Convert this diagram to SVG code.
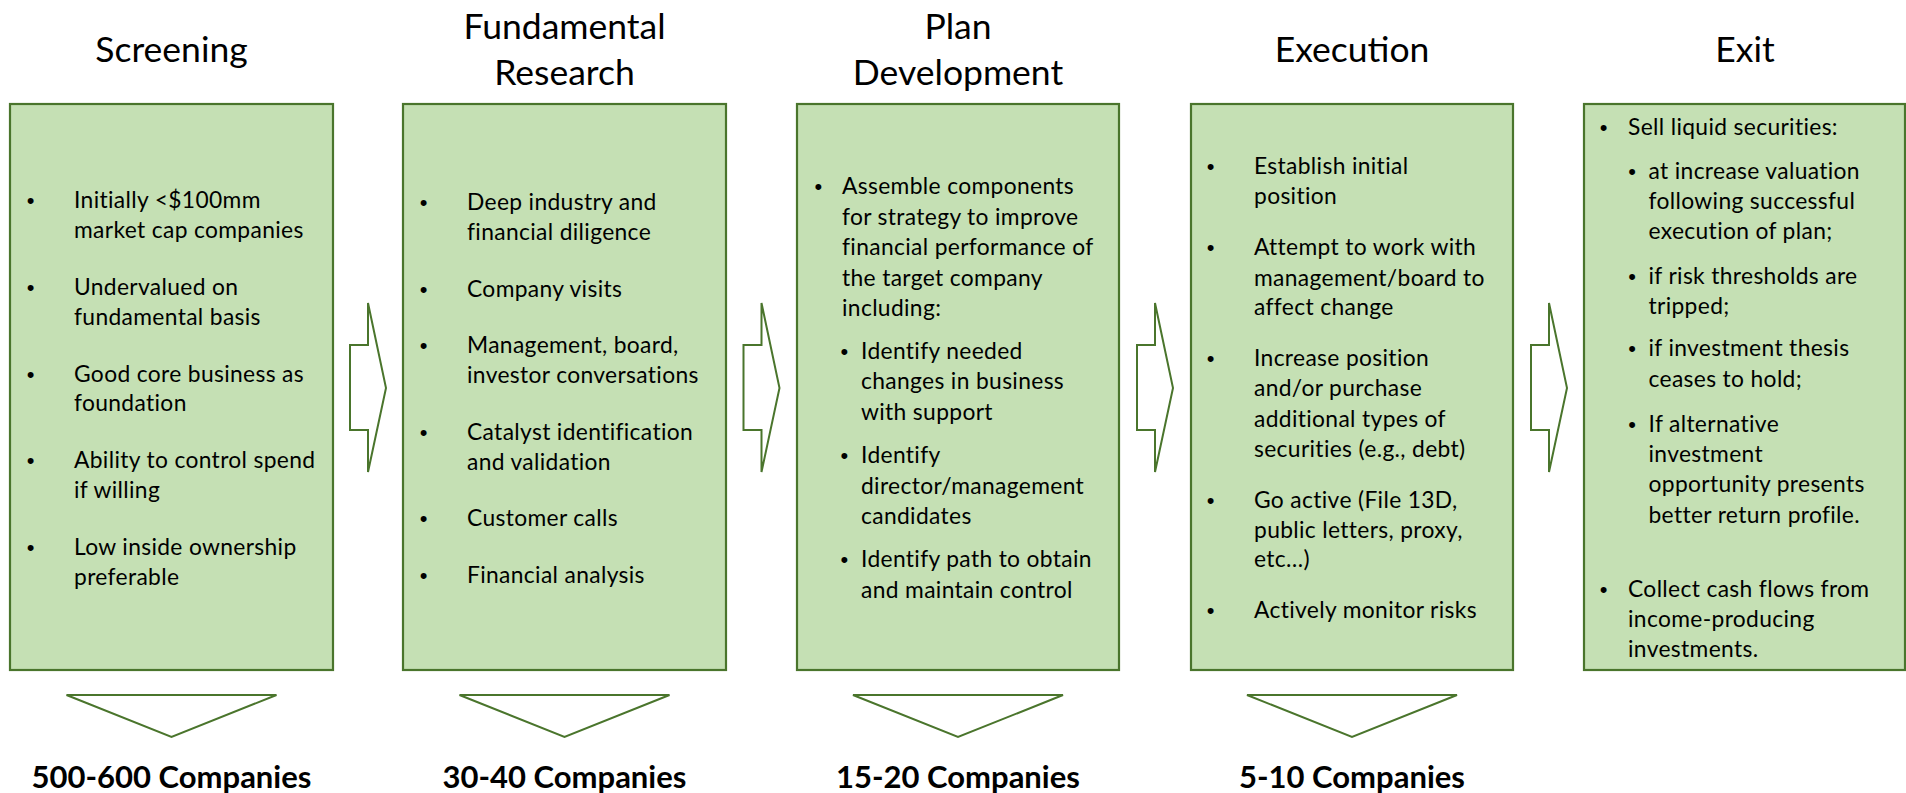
<svg xmlns="http://www.w3.org/2000/svg" width="1906" height="793" viewBox="0 0 1906 793">
  <defs>
    <style>
      .box { fill: #C5E0B4; stroke: #4A752C; stroke-width: 2.2; }
      .arrow { fill: #FFFFFF; stroke: #4A752C; stroke-width: 2; stroke-linejoin: miter; }
      .title { font-family: Lato, "Open Sans", sans-serif; font-size: 35.5px; fill: #000; text-anchor: middle; }
      .body { font-family: Lato, "Open Sans", sans-serif; font-size: 22.8px; letter-spacing: 0.35px; fill: #000; }
      .dot { font-family: "Liberation Sans", Arial, sans-serif; font-size: 22px; fill: #000; text-anchor: middle; }
      .count { font-family: Lato, "Open Sans", sans-serif; font-size: 31px; font-weight: bold; fill: #000; text-anchor: middle; }
    </style>
    <polygon id="rightArrow" class="arrow" points="350,345 368,345 368,303 386,388 368,472 368,430 350,430"/>
    <polygon id="downArrow" class="arrow" points="-105,695 105,695 0,737"/>
  </defs>

  <!-- Stage 1: Screening -->
  <g id="screening">
    <text class="title" x="171.5" y="61.7">Screening</text>
    <rect class="box" x="10" y="104" width="323" height="566"/>
    <g class="dot">
      <text x="30.7" y="208">•</text>
      <text x="30.7" y="295">•</text>
      <text x="30.7" y="381.5">•</text>
      <text x="30.7" y="468">•</text>
      <text x="30.7" y="555">•</text>
    </g>
    <text class="body">
      <tspan x="74" y="208">Initially &lt;$100mm</tspan>
      <tspan x="74" y="237.5">market cap companies</tspan>
      <tspan x="74" y="295">Undervalued on</tspan>
      <tspan x="74" y="324.5">fundamental basis</tspan>
      <tspan x="74" y="381.5">Good core business as</tspan>
      <tspan x="74" y="411">foundation</tspan>
      <tspan x="74" y="468">Ability to control spend</tspan>
      <tspan x="74" y="497.5">if willing</tspan>
      <tspan x="74" y="555">Low inside ownership</tspan>
      <tspan x="74" y="584.5">preferable</tspan>
    </text>
    <use href="#downArrow" x="171.5"/>
    <text class="count" x="171.5" y="788">500-600 Companies</text>
  </g>

  <!-- Stage 2: Fundamental Research -->
  <g id="fundamental-research">
    <text class="title" x="564.5" y="39">Fundamental</text>
    <text class="title" x="564.5" y="84.5">Research</text>
    <rect class="box" x="403" y="104" width="323" height="566"/>
    <g class="dot">
      <text x="423.5" y="210">•</text>
      <text x="423.5" y="296.5">•</text>
      <text x="423.5" y="353">•</text>
      <text x="423.5" y="440">•</text>
      <text x="423.5" y="526">•</text>
      <text x="423.5" y="582.5">•</text>
    </g>
    <text class="body">
      <tspan x="467" y="210">Deep industry and</tspan>
      <tspan x="467" y="239.5">financial diligence</tspan>
      <tspan x="467" y="296.5">Company visits</tspan>
      <tspan x="467" y="353">Management, board,</tspan>
      <tspan x="467" y="382.5">investor conversations</tspan>
      <tspan x="467" y="440">Catalyst identification</tspan>
      <tspan x="467" y="469.5">and validation</tspan>
      <tspan x="467" y="526">Customer calls</tspan>
      <tspan x="467" y="582.5">Financial analysis</tspan>
    </text>
    <use href="#downArrow" x="564.5"/>
    <text class="count" x="564.5" y="788">30-40 Companies</text>
  </g>

  <!-- Stage 3: Plan Development -->
  <g id="plan-development">
    <text class="title" x="958" y="39.3">Plan</text>
    <text class="title" x="958" y="84.5">Development</text>
    <rect class="box" x="797" y="104" width="322" height="566"/>
    <g class="dot">
      <text x="818.3" y="194">•</text>
      <text x="844.3" y="358.5">•</text>
      <text x="844.3" y="463">•</text>
      <text x="844.3" y="567">•</text>
    </g>
    <text class="body">
      <tspan x="842" y="194">Assemble components</tspan>
      <tspan x="842" y="224.5">for strategy to improve</tspan>
      <tspan x="842" y="255">financial performance of</tspan>
      <tspan x="842" y="285.5">the target company</tspan>
      <tspan x="842" y="316">including:</tspan>
      <tspan x="861" y="358.5">Identify needed</tspan>
      <tspan x="861" y="389">changes in business</tspan>
      <tspan x="861" y="420">with support</tspan>
      <tspan x="861" y="463">Identify</tspan>
      <tspan x="861" y="493.5">director/management</tspan>
      <tspan x="861" y="524">candidates</tspan>
      <tspan x="861" y="567">Identify path to obtain</tspan>
      <tspan x="861" y="598">and maintain control</tspan>
    </text>
    <use href="#downArrow" x="958"/>
    <text class="count" x="958" y="788">15-20 Companies</text>
  </g>

  <!-- Stage 4: Execution -->
  <g id="execution">
    <text class="title" x="1352" y="61.7">Execution</text>
    <rect class="box" x="1191" y="104" width="322" height="566"/>
    <g class="dot">
      <text x="1210.7" y="174">•</text>
      <text x="1210.7" y="255">•</text>
      <text x="1210.7" y="366">•</text>
      <text x="1210.7" y="508">•</text>
      <text x="1210.7" y="618">•</text>
    </g>
    <text class="body">
      <tspan x="1254" y="174">Establish initial</tspan>
      <tspan x="1254" y="203.5">position</tspan>
      <tspan x="1254" y="255">Attempt to work with</tspan>
      <tspan x="1254" y="285.5">management/board to</tspan>
      <tspan x="1254" y="315">affect change</tspan>
      <tspan x="1254" y="366">Increase position</tspan>
      <tspan x="1254" y="396">and/or purchase</tspan>
      <tspan x="1254" y="426.5">additional types of</tspan>
      <tspan x="1254" y="456.5">securities (e.g., debt)</tspan>
      <tspan x="1254" y="508">Go active (File 13D,</tspan>
      <tspan x="1254" y="537.5">public letters, proxy,</tspan>
      <tspan x="1254" y="567">etc…)</tspan>
      <tspan x="1254" y="618">Actively monitor risks</tspan>
    </text>
    <use href="#downArrow" x="1352"/>
    <text class="count" x="1352" y="788">5-10 Companies</text>
  </g>

  <!-- Stage 5: Exit -->
  <g id="exit">
    <text class="title" x="1745" y="61.7">Exit</text>
    <rect class="box" x="1584" y="104" width="321" height="566"/>
    <g class="dot">
      <text x="1603.5" y="135">•</text>
      <text x="1632" y="178.5">•</text>
      <text x="1632" y="283.5">•</text>
      <text x="1632" y="356">•</text>
      <text x="1632" y="431.5">•</text>
      <text x="1603.5" y="596.5">•</text>
    </g>
    <text class="body">
      <tspan x="1628" y="135">Sell liquid securities:</tspan>
      <tspan x="1648.5" y="178.5">at increase valuation</tspan>
      <tspan x="1648.5" y="208.5">following successful</tspan>
      <tspan x="1648.5" y="238.5">execution of plan;</tspan>
      <tspan x="1648.5" y="283.5">if risk thresholds are</tspan>
      <tspan x="1648.5" y="313.5">tripped;</tspan>
      <tspan x="1648.5" y="356">if investment thesis</tspan>
      <tspan x="1648.5" y="386.5">ceases to hold;</tspan>
      <tspan x="1648.5" y="431.5">If alternative</tspan>
      <tspan x="1648.5" y="461.5">investment</tspan>
      <tspan x="1648.5" y="491.5">opportunity presents</tspan>
      <tspan x="1648.5" y="522.5">better return profile.</tspan>
      <tspan x="1628" y="596.5">Collect cash flows from</tspan>
      <tspan x="1628" y="626.5">income-producing</tspan>
      <tspan x="1628" y="656.5">investments.</tspan>
    </text>
  </g>

  <!-- Block arrows between stages -->
  <g id="connectors">
    <use href="#rightArrow"/>
    <use href="#rightArrow" x="393.5"/>
    <use href="#rightArrow" x="787"/>
    <use href="#rightArrow" x="1181"/>
  </g>
</svg>
